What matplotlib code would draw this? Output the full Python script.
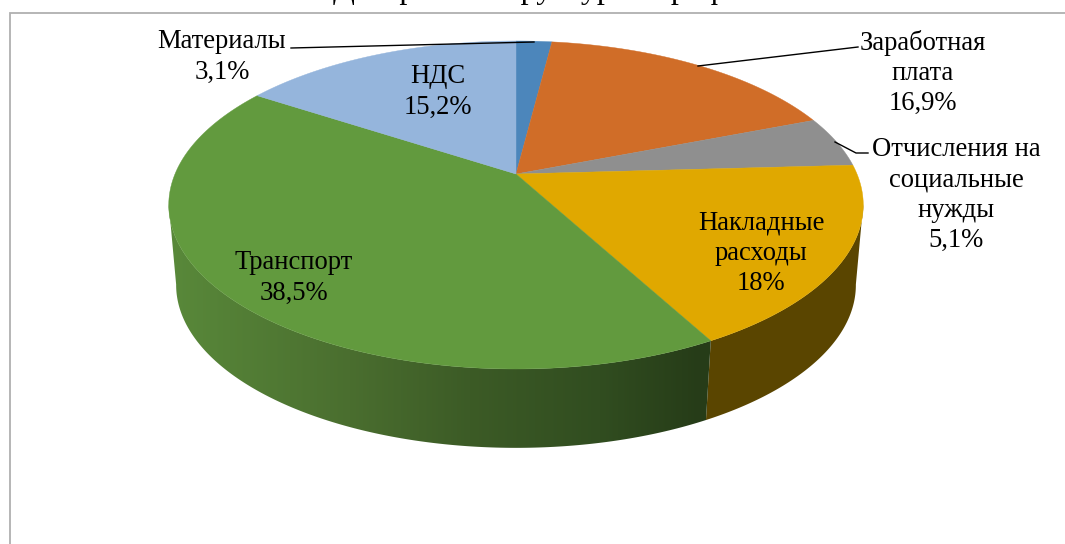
import numpy as np
import matplotlib
matplotlib.use("Agg")
import matplotlib.pyplot as plt
from matplotlib.patches import Polygon

W, H = 1065, 544
title = "Диаграмма структуры тарифа"
categories = ["Материалы", "Заработная\nплата", "Отчисления на\nсоциальные\nнужды",
              "Накладные\nрасходы", "Транспорт", "НДС"]
printed_labels = ["3,1%", "16,9%", "5,1%", "18%", "38,5%", "15,2%"]
drawn_shares = [2.0, 17.1, 5.0, 18.0, 42.1, 15.8]
top_colors = ["#4c86bb", "#d06d28", "#8f8f8f", "#e0a800", "#629a3e", "#95b5dc"]

label_pos = [(222, 57), (923, 73), (956, 195), (761, 253), (294, 278), (438, 92)]

plt.rcParams["font.family"] = ["Liberation Serif", "DejaVu Serif"]
fig = plt.figure(figsize=(W / 100, H / 100), dpi=100)
ax = fig.add_axes([0, 0, 1, 1])
ax.set_xlim(0, W)
ax.set_ylim(H, 0)
ax.axis("off")

CX = 516.0


def top_pt(t):
    u, v = np.sin(t), np.cos(t)
    d = 1 + 0.189 * v
    return CX + 341 * u / d, (174 - 125.25 * v) / d


def low_pt(t):
    u, v = np.sin(t), np.cos(t)
    d = 1 + 0.185 * v
    return CX + 334 * u / d, (254.8 - 110.2 * v) / d


# frame
ax.plot([9.5, 9.5, W + 5], [H + 5, 13, 13], color="#b0b0b0", lw=1.3, solid_joinstyle="miter")
ax.text(536, -2, title, ha="center", va="baseline", fontsize=23, color="black")

shares = np.array(drawn_shares, dtype=float)
edges = np.concatenate([[0], np.cumsum(shares)]) / shares.sum() * 2 * np.pi

# side wall of the yellow slice
tt = np.linspace(max(edges[3], np.radians(100.5)), edges[4], 80)
xt, yt = top_pt(tt)
xb, yb = low_pt(tt)
ax.fill(np.r_[xt, xb[::-1]], np.r_[yt, yb[::-1]], color="#5a4500", lw=0)

# side wall of the green slice: horizontal shading clipped to the wall outline
green_x = [170, 350, 470, 600, 700]
green_rgb = np.array([[0x59, 0x89, 0x3a], [0x4a, 0x6e, 0x2f], [0x3c, 0x5b, 0x26],
                      [0x31, 0x4d, 0x20], [0x26, 0x3c, 0x18]]) / 255
xs = np.arange(W) + 0.5
grad = np.stack([np.interp(xs, green_x, green_rgb[:, j]) for j in range(3)], axis=1)[None, :, :]
tt = np.linspace(edges[4], np.radians(259.5), 160)
xt, yt = top_pt(tt)
xb, yb = low_pt(tt)
wall = Polygon(np.c_[np.r_[xt, xb[::-1]], np.r_[yt, yb[::-1]]], closed=True,
               transform=ax.transData, facecolor="none", edgecolor="none")
ax.add_patch(wall)
im = ax.imshow(grad, extent=(0, W, H, 0), aspect="auto", interpolation="nearest", zorder=1)
im.set_clip_path(wall)
ax.set_xlim(0, W)
ax.set_ylim(H, 0)

# top face
for i, col in enumerate(top_colors):
    tt = np.linspace(edges[i], edges[i + 1], 150)
    x, y = top_pt(tt)
    ax.fill(np.r_[CX, x], np.r_[174.0, y], facecolor=col, edgecolor=col, lw=0.3, zorder=2)

# leader lines
for lx, ly in [([291, 534], [48, 42]), ([698, 858], [66, 47]), ([835, 856, 868], [142, 153, 153])]:
    ax.plot(lx, ly, color="black", lw=1.0, zorder=3)

for cat, pct, (x, y) in zip(categories, printed_labels, label_pos):
    ax.text(x, y, f"{cat}\n{pct}", ha="center", va="center", fontsize=19.2,
            color="black", linespacing=1.27, zorder=4)

fig.savefig("out.png", dpi=100, facecolor="white")
